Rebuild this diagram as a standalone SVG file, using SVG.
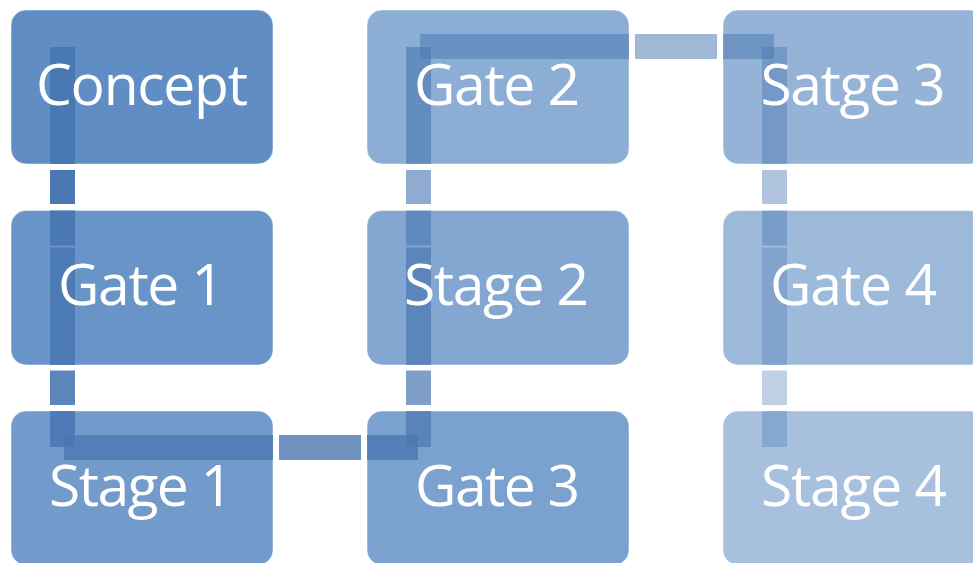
<svg xmlns="http://www.w3.org/2000/svg" width="973" height="563" viewBox="0 0 973 563">
<style>
.box{fill:#4F81BD;stroke:#ffffff;stroke-opacity:0.5;stroke-width:1}
.lbl{font-family:"Open Sans","Noto Sans","Liberation Sans",sans-serif;font-size:57px;fill:#ffffff;text-anchor:middle}
.cn{fill:#4a78b2}
</style>
<rect width="973" height="563" fill="#ffffff"/>
<g id="node-concept"><rect class="box" x="11" y="10" width="262" height="154" rx="15" fill-opacity="0.9"/></g>
<g id="node-gate1"><rect class="box" x="11" y="210.5" width="262" height="154.5" rx="15" fill-opacity="0.85"/></g>
<g id="node-stage1"><rect class="box" x="11" y="411" width="262" height="154" rx="15" fill-opacity="0.8"/></g>
<g id="node-gate3"><rect class="box" x="367" y="411" width="262" height="154" rx="15" fill-opacity="0.75"/></g>
<g id="node-stage2"><rect class="box" x="367" y="210.5" width="262" height="154.5" rx="15" fill-opacity="0.7"/></g>
<g id="node-gate2"><rect class="box" x="367" y="10" width="262" height="154" rx="15" fill-opacity="0.65"/></g>
<g id="node-satge3"><rect class="box" x="723" y="10" width="262" height="154" rx="15" fill-opacity="0.6"/></g>
<g id="node-gate4"><rect class="box" x="723" y="210.5" width="262" height="154.5" rx="15" fill-opacity="0.55"/></g>
<g id="node-stage4"><rect class="box" x="723" y="411" width="262" height="154" rx="15" fill-opacity="0.5"/></g>
<g id="connectors">
<g id="c1" class="cn" fill-opacity="1">
<rect x="50" y="47" width="25" height="117"/><rect x="50" y="170" width="25" height="34"/><rect x="50" y="210.5" width="25" height="35"/>
</g>
<g id="c2" class="cn" fill-opacity="0.9">
<rect x="50" y="247.5" width="25" height="117.5"/><rect x="50" y="370.5" width="25" height="34.5"/><rect x="50" y="411" width="25" height="36"/>
</g>
<g id="c3" class="cn" fill-opacity="0.8">
<rect x="64" y="435" width="209" height="25"/><rect x="279" y="435" width="82" height="25"/><rect x="367" y="435" width="51" height="25"/>
</g>
<g id="c4" class="cn" fill-opacity="0.71">
<rect x="406" y="411" width="25" height="36"/><rect x="406" y="370.5" width="25" height="34.5"/><rect x="406" y="247.5" width="25" height="117.5"/>
</g>
<g id="c5" class="cn" fill-opacity="0.62">
<rect x="406" y="210.5" width="25" height="35"/><rect x="406" y="170" width="25" height="34"/><rect x="406" y="47" width="25" height="117"/>
</g>
<g id="c6" class="cn" fill-opacity="0.53">
<rect x="420" y="34" width="209" height="25"/><rect x="635" y="34" width="82" height="25"/><rect x="723" y="34" width="51" height="25"/>
</g>
<g id="c7" class="cn" fill-opacity="0.44">
<rect x="762" y="47" width="25" height="117"/><rect x="762" y="170" width="25" height="34"/><rect x="762" y="210.5" width="25" height="35"/>
</g>
<g id="c8" class="cn" fill-opacity="0.35">
<rect x="762" y="247.5" width="25" height="117.5"/><rect x="762" y="370.5" width="25" height="34.5"/><rect x="762" y="411" width="25" height="36"/>
</g>
</g>
<g id="labels">
<text id="label-concept" class="lbl" x="142" y="105" textLength="212">Concept</text>
<text id="label-gate1" class="lbl" x="141" y="305" textLength="166">Gate 1</text>
<text id="label-stage1" class="lbl" x="141" y="506" textLength="184">Stage 1</text>
<text id="label-gate3" class="lbl" x="497.5" y="506" textLength="165">Gate 3</text>
<text id="label-stage2" class="lbl" x="496.5" y="305" textLength="185">Stage 2</text>
<text id="label-gate2" class="lbl" x="497" y="105" textLength="166">Gate 2</text>
<text id="label-satge3" class="lbl" x="853" y="105" textLength="185">Satge 3</text>
<text id="label-gate4" class="lbl" x="853.5" y="305" textLength="167">Gate 4</text>
<text id="label-stage4" class="lbl" x="854" y="506" textLength="186">Stage 4</text>
</g>
</svg>
